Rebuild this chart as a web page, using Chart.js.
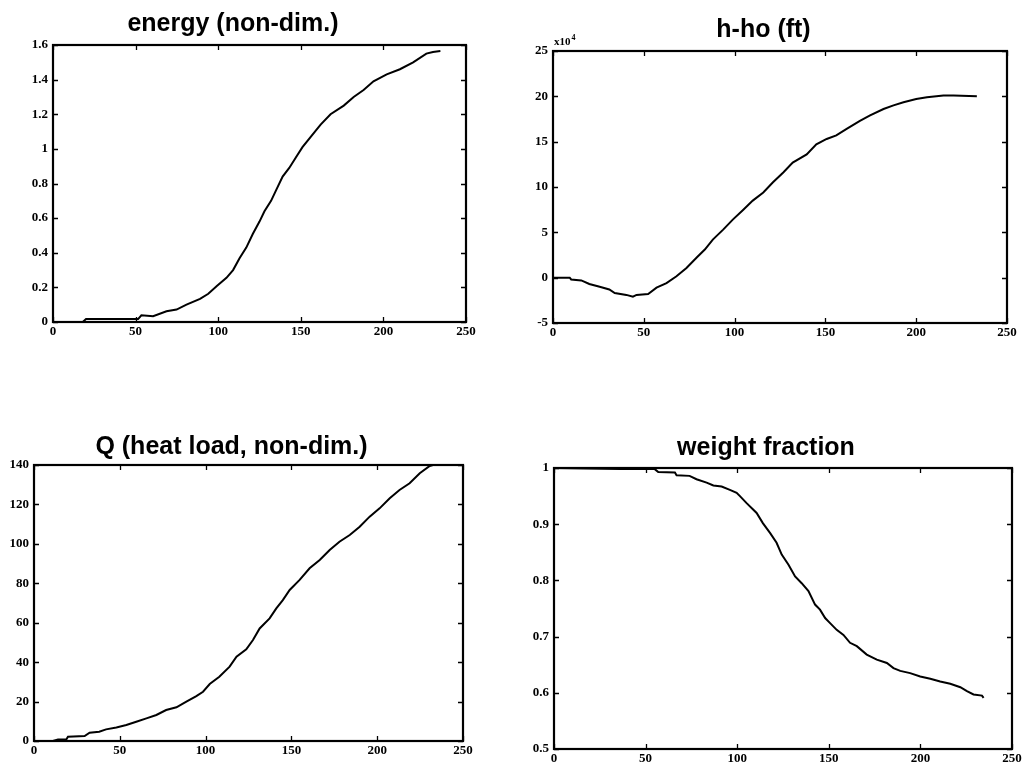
<!DOCTYPE html>
<html><head><meta charset="utf-8">
<script src="https://cdn.jsdelivr.net/npm/chart.js@4/dist/chart.umd.min.js"></script>
<style>
html,body{margin:0;padding:0;background:#fff;overflow:hidden;width:1029px;height:768px;position:relative;}
canvas{position:absolute;}
</style></head><body>
<canvas id="c1"></canvas>
<canvas id="c2"></canvas>
<canvas id="c3"></canvas>
<canvas id="c4"></canvas>
<script>
// ---- data (time axis 0..250) ----
const xTickStep = 50;
const titles = ['energy (non-dim.)', 'h-ho (ft)', 'Q (heat load, non-dim.)', 'weight fraction'];

const energyX = [0,18,20,51.5,53.5,60.6,68.7,74.8,80.8,89,94,99,105,109,113,117,121,125,128,132,135,139,143,147,151,156,162,168,176,182,188,194,202,210,218,226,230,234.5];
const energyY = [0,0,0.017,0.017,0.039,0.033,0.062,0.072,0.10,0.134,0.163,0.207,0.255,0.30,0.37,0.43,0.51,0.58,0.64,0.70,0.76,0.84,0.89,0.95,1.01,1.07,1.14,1.20,1.25,1.30,1.34,1.39,1.43,1.46,1.50,1.55,1.56,1.565];

// altitude change in units of 10^4 ft
const altX = [0,9.2,10,15.6,20,25.7,31,34,40.4,44,46,52.4,57,62.5,68,73.5,79,83.6,88,93.7,99,104.8,110,115.8,121,126.8,132,139.7,145,150.7,156,161.7,169,174.6,182,187.5,193,200,205.9,215,220.6,233.4];
const altY = [0,0,-0.2,-0.3,-0.7,-1.0,-1.3,-1.7,-1.9,-2.1,-1.9,-1.8,-1.1,-0.6,0.15,1.07,2.2,3.1,4.2,5.3,6.4,7.5,8.5,9.4,10.5,11.6,12.7,13.6,14.7,15.3,15.7,16.4,17.3,17.9,18.6,19.0,19.35,19.7,19.9,20.1,20.1,20.0];

const heatX = [0,11,14,18.8,19.8,29.5,32.4,38,42,48,53.8,59.6,65.5,71.3,77,83,88.8,94.6,98.5,102.4,108,114,118,123.7,127.6,131.5,137.3,141.2,145,149,154.8,160.6,166.5,172.3,178,184,189.8,195.6,201.4,207.3,213,218.9,224.8,230.6,232.5];
const heatY = [0,0,0.8,0.8,2.2,2.5,4.2,4.7,5.9,6.9,8.1,9.8,11.5,13.2,15.7,17.1,20.0,22.8,25.0,28.9,32.6,37.7,42.8,46.5,51.2,57.1,62.2,67.3,71.5,76.6,81.7,87.6,91.8,96.9,101.1,104.5,108.7,113.8,118.0,123.1,127.3,130.7,135.8,139.5,140];

const weightX = [0,35.9,55,56.9,66,66.9,74,77.8,83.3,87,91.5,96,99.7,101.5,105,110.6,114,118,121.5,124.3,128,131.6,135.2,138.9,142.5,145.2,148,150.7,154.3,158,161.6,165.3,170.7,176.2,181.7,185.3,189,194.4,199.9,205.4,210.8,216.3,221.8,225.4,229,233.6,234.5];
const weightY = [1.0,0.998,0.998,0.993,0.992,0.987,0.986,0.980,0.974,0.969,0.967,0.961,0.956,0.950,0.938,0.920,0.902,0.884,0.867,0.846,0.828,0.807,0.795,0.781,0.757,0.748,0.733,0.724,0.712,0.703,0.689,0.683,0.668,0.659,0.653,0.644,0.639,0.635,0.629,0.625,0.620,0.616,0.610,0.603,0.597,0.595,0.591];

const yRanges = [[0,1.6,0.2],[-5,25,5],[0,140,20],[0.5,1,0.1]];

// ---- helpers ----
const boxPlugin = {
  id: 'boxTicks',
  afterDatasetsDraw(chart) {
    const {ctx, chartArea: a, scales: {x, y}} = chart;
    ctx.save();
    ctx.strokeStyle = '#000';
    ctx.lineWidth = 1.3;
    const L = 5;
    ctx.beginPath();
    x.ticks.forEach(t => {
      const px = Math.round(x.getPixelForValue(t.value)) + 0.5;
      ctx.moveTo(px, a.bottom); ctx.lineTo(px, a.bottom - L);
      ctx.moveTo(px, a.top); ctx.lineTo(px, a.top + L);
    });
    y.ticks.forEach(t => {
      const py = Math.round(y.getPixelForValue(t.value)) + 0.5;
      ctx.moveTo(a.left, py); ctx.lineTo(a.left + L, py);
      ctx.moveTo(a.right, py); ctx.lineTo(a.right - L, py);
    });
    ctx.stroke();
    ctx.lineWidth = 2.2;
    ctx.strokeRect(a.left, a.top, a.right - a.left, a.bottom - a.top);
    ctx.restore();
  }
};

const expPlugin = {
  id: 'expLabel',
  afterDraw(chart) {
    if (!chart.options.plugins.expLabel || !chart.options.plugins.expLabel.show) return;
    const {ctx, chartArea: a} = chart;
    ctx.save();
    ctx.fillStyle = '#000';
    ctx.textBaseline = 'alphabetic';
    ctx.font = 'bold 11px "Liberation Serif"';
    ctx.fillText('x10', a.left + 1, a.top - 6);
    const w = ctx.measureText('x10').width;
    ctx.font = 'bold 8px "Liberation Serif"';
    ctx.fillText('4', a.left + 2 + w, a.top - 11);
    ctx.restore();
  }
};

const tickFont = {family: '"Liberation Serif", "Times New Roman", serif', size: 13, weight: 'bold'};

function makeChart(id, cfg) {
  const cv = document.getElementById(id);
  cv.width = cfg.w; cv.height = cfg.h;
  cv.style.left = cfg.left + 'px'; cv.style.top = cfg.top + 'px';
  cv.style.width = cfg.w + 'px'; cv.style.height = cfg.h + 'px';
  const pts = cfg.xs.map((v, i) => ({x: v, y: cfg.ys[i]}));
  const [ymin, ymax, ystep] = cfg.yr;
  const dec = ystep < 1 ? 1 : 0;
  new Chart(cv, {
    type: 'line',
    data: {datasets: [{data: pts, borderColor: '#000', borderWidth: 2, pointRadius: 0, tension: 0, fill: false}]},
    options: {
      responsive: false, animation: false, devicePixelRatio: 1,
      layout: {padding: {left: 0, right: cfg.padR, top: 0, bottom: 0}},
      plugins: {
        legend: {display: false}, tooltip: {enabled: false},
        title: {display: true, text: cfg.title, color: '#000',
          font: {family: '"Liberation Sans", Arial, sans-serif', size: 25, weight: 'bold', lineHeight: 1.2},
          padding: {top: cfg.tp, bottom: cfg.tb}},
        expLabel: {show: !!cfg.exp}
      },
      scales: {
        x: {type: 'linear', min: 0, max: 250,
          ticks: {stepSize: xTickStep, color: '#000', font: tickFont, padding: 2, maxRotation: 0, autoSkip: false},
          grid: {display: false, drawTicks: false}, border: {display: false},
          afterFit(s) { s.height = cfg.xh; }},
        y: {type: 'linear', min: ymin, max: ymax,
          ticks: {stepSize: ystep, color: '#000', font: tickFont, padding: 5, autoSkip: false,
            callback: v => String(Number(v.toFixed(dec)))},
          grid: {display: false, drawTicks: false}, border: {display: false},
          afterFit(s) { s.width = cfg.yw; }}
      }
    },
    plugins: [boxPlugin, expPlugin]
  });
}

makeChart('c1', {left: 0, top: 0, w: 511, h: 345, yw: 53, padR: 45, xh: 23, tp: 9, tb: 6,
  title: titles[0], xs: energyX, ys: energyY, yr: yRanges[0]});
makeChart('c2', {left: 520, top: 0, w: 526, h: 346, yw: 33, padR: 39, xh: 23, tp: 15, tb: 6,
  title: titles[1], xs: altX, ys: altY, yr: yRanges[1], exp: true});
makeChart('c3', {left: 0, top: 420, w: 552, h: 344, yw: 34, padR: 89, xh: 23, tp: 12, tb: 3,
  title: titles[2], xs: heatX, ys: heatY, yr: yRanges[2]});
makeChart('c4', {left: 520, top: 420, w: 546, h: 348, yw: 34, padR: 54, xh: 19, tp: 13, tb: 5,
  title: titles[3], xs: weightX, ys: weightY, yr: yRanges[3]});
</script>
</body></html>
